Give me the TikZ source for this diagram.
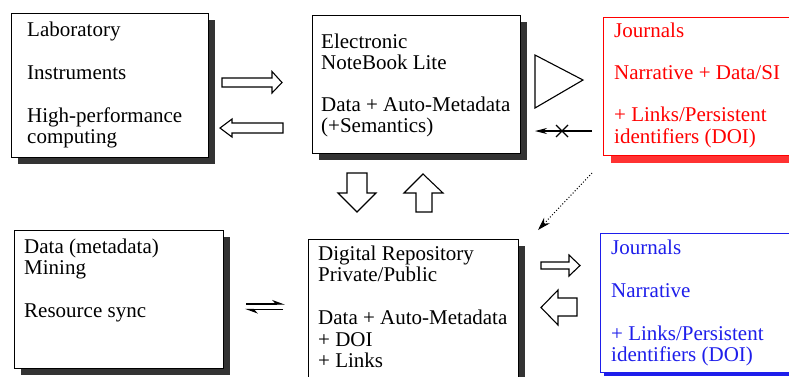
\documentclass[tikz,border=0pt]{standalone}
\usepackage{fontspec}
\setmainfont{Liberation Serif}
\usetikzlibrary{arrows.meta,shadows}
\definecolor{shadowgray}{RGB}{51,51,51}
\definecolor{jred}{RGB}{255,0,0}
\definecolor{jredshadow}{RGB}{255,50,50}
\definecolor{jblue}{RGB}{30,30,235}
\begin{document}
\begin{tikzpicture}[x=1pt,y=-1pt,
  box/.style={draw=black, fill=white, line width=1.3pt, anchor=north west, inner sep=0pt,
    general shadow={fill=shadowgray, shadow xshift=6pt, shadow yshift=-6pt}},
  redbox/.style={draw=jred, fill=white, line width=1.3pt, anchor=north west, inner sep=0pt,
    general shadow={fill=jredshadow, shadow xshift=7pt, shadow yshift=-7pt}},
  bluebox/.style={draw=jblue, fill=white, line width=1.3pt, anchor=north west, inner sep=0pt,
    general shadow={fill=jblue, shadow xshift=3pt, shadow yshift=-3pt}},
  txt/.style={anchor=north west, inner sep=0pt, align=left, font=\fontsize{21}{21.5}\selectfont},
  blk/.style={draw=black, fill=white, line width=1.1pt, line join=miter},
  thin/.style={line width=1.1pt}
]
\useasboundingbox (0,0) rectangle (789,376);
\clip (0,0) rectangle (789,376);

% boxes
\node[box, minimum width=197pt, minimum height=144pt] (lab) at (11,13) {};
\node[box, minimum width=208pt, minimum height=138pt] (enb) at (312,15) {};
\node[redbox, minimum width=200pt, minimum height=138pt] (jr) at (603,17) {};
\node[box, minimum width=209pt, minimum height=138pt] (mine) at (14,230) {};
\node[box, minimum width=210pt, minimum height=150pt] (repo) at (308,239) {};
\node[bluebox, minimum width=200pt, minimum height=139pt] (jb) at (600,233) {};

% texts
\node[txt] (labt) at (27,20.95) {\strut Laboratory\\[21.5pt] Instruments\\[21.5pt] High-performance\\ computing};
\node[txt] (enbt) at (321,32.95) {\strut Electronic\\ NoteBook Lite\\[20pt] Data + Auto-Metadata\\ (+Semantics)};
\node[txt, text=jred] (jrt) at (614,21.95) {\strut Journals\\[21pt] Narrative + Data/SI\\[20.5pt] + Links/Persistent\\ identifiers (DOI)};
\node[txt] (minet) at (24,237.95) {\strut Data (metadata)\\ Mining\\[21.5pt] Resource sync};
\node[txt] (repot) at (318,244.95) {\strut Digital Repository\\ Private/Public\\[21.5pt] Data + Auto-Metadata\\ + DOI\\ + Links};
\node[txt, text=jblue] (jbt) at (611,238.95) {\strut Journals\\[21.5pt] Narrative\\[21.5pt] + Links/Persistent\\ identifiers (DOI)};

% block arrows between lab and ENB
\draw[blk] (222,78) -- (272,78) -- (272,71.5) -- (282,82.5) -- (272,93) -- (272,87) -- (222,87) -- cycle;
\draw[blk] (283,123) -- (232,123) -- (232,119) -- (220,128) -- (232,137) -- (232,133) -- (283,133) -- cycle;

% triangle
\draw[blk] (535,55) -- (535,108) -- (583,80) -- cycle;

% crossed arrow from journals to ENB
\coordinate (xs) at (592,131);
\coordinate (xe) at (535,131);
\draw[thin, -{Stealth[length=12pt,width=6pt]}] (xs) -- (xe);
\draw[thin] (556,125) -- (568,137) (556,137) -- (568,125);

% vertical block arrows
\draw[blk] (347,173) -- (367,173) -- (367,193) -- (376,193) -- (357,212) -- (338,193) -- (347,193) -- cycle;
\draw[blk] (416,212) -- (432,212) -- (432,193) -- (443,193) -- (423,174) -- (404,193) -- (416,193) -- cycle;

% dotted arrow
\coordinate (ds) at (592,173);
\coordinate (de) at (538,230);
\draw[dotted, line width=1pt, -{Stealth[length=13pt,width=8pt]}] (ds) -- (de);

% harpoons
\coordinate (h1) at (246,304);
\coordinate (h2) at (285,304);
\coordinate (h3) at (283,309.5);
\coordinate (h4) at (245,309.5);
\draw[line width=1.3pt, -{Stealth[left,length=11pt,width=8pt]}] (h1) -- (h2);
\draw[line width=1.3pt, -{Stealth[left,length=11pt,width=8pt]}] (h3) -- (h4);

% block arrows between repo and blue journals
\draw[blk] (541,262) -- (569,262) -- (569,255) -- (580,265.5) -- (569,276) -- (569,269) -- (541,269) -- cycle;
\draw[blk] (577,298) -- (558,298) -- (558,290) -- (541,307.5) -- (558,325) -- (558,316) -- (577,316) -- cycle;
\end{tikzpicture}
\end{document}
